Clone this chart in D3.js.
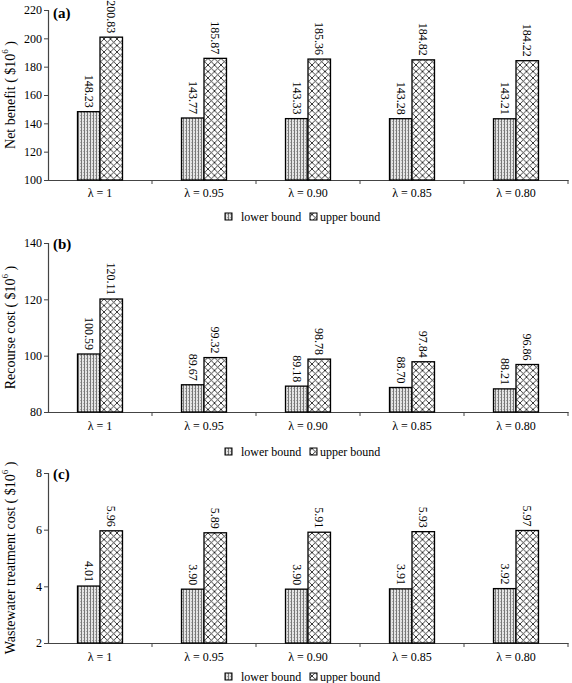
<!DOCTYPE html>
<html><head><meta charset="utf-8">
<script src="https://cdn.jsdelivr.net/npm/d3@7"></script>
<style>body{margin:0;background:#fff}svg{display:block;font-family:"Liberation Serif","DejaVu Serif",serif}</style>
</head><body>
<script>
const categories = ["λ = 1", "λ = 0.95", "λ = 0.90", "λ = 0.85", "λ = 0.80"];
const seriesNames = ["lower bound", "upper bound"];
const netLower = [148.23, 143.77, 143.33, 143.28, 143.21];
const netUpper = [200.83, 185.87, 185.36, 184.82, 184.22];
const recLower = [100.59, 89.67, 89.18, 88.70, 88.21];
const recUpper = [120.11, 99.32, 98.78, 97.84, 96.86];
const wwLower = [4.01, 3.90, 3.90, 3.91, 3.92];
const wwUpper = [5.96, 5.89, 5.91, 5.93, 5.97];
const netTicks = [100, 120, 140, 160, 180, 200, 220];
const recTicks = [80, 100, 120, 140];
const wwTicks = [2, 4, 6, 8];
const panelTags = ["(a)", "(b)", "(c)"];
const yTitles = ["Net benefit ( $10", "Recourse cost ( $10", "Wastewater treatment cost ( $10"];

const W = 572, H = 683;
const svg = d3.select("body").append("svg").attr("width", W).attr("height", H);
const defs = svg.append("defs");
const pl = defs.append("pattern").attr("id", "pLow").attr("patternUnits", "userSpaceOnUse").attr("width", 3).attr("height", 3);
pl.append("rect").attr("width", 3).attr("height", 3).attr("fill", "#e4e4e4");
pl.append("rect").attr("x", 0).attr("width", 1).attr("height", 3).attr("fill", "#777");
pl.append("rect").attr("x", 2).attr("y", 1).attr("width", 1).attr("height", 1).attr("fill", "#aaa");
const pu = defs.append("pattern").attr("id", "pUp").attr("patternUnits", "userSpaceOnUse").attr("width", 6.5).attr("height", 6.5);
pu.append("rect").attr("width", 6.5).attr("height", 6.5).attr("fill", "#fff");
pu.append("path").attr("d", "M0,0L6.5,6.5M0,6.5L6.5,0M-1,1L1,-1M5.5,7.5L7.5,5.5").attr("stroke", "#222").attr("stroke-width", 0.9);
const fills = ["url(#pLow)", "url(#pUp)"];

const panels = [
  {top: 10, bottom: 180, dom: [100, 220], ticks: netTicks, lower: netLower, upper: netUpper, tagY: 18, catY: 197, legY: 217},
  {top: 243, bottom: 412, dom: [80, 140], ticks: recTicks, lower: recLower, upper: recUpper, tagY: 249, catY: 430, legY: 452},
  {top: 473, bottom: 643, dom: [2, 8], ticks: wwTicks, lower: wwLower, upper: wwUpper, tagY: 479, catY: 661, legY: 677}
];
const x0 = d3.scaleBand().domain(categories).range([48, 568]);

panels.forEach((p, i) => {
  const g = svg.append("g");
  const y = d3.scaleLinear().domain(p.dom).range([p.bottom, p.top]);
  const ya = g.append("g").attr("transform", "translate(48,0)")
    .call(d3.axisLeft(y).tickValues(p.ticks).tickSize(4).tickPadding(2).tickFormat(d3.format("d")));
  ya.select(".domain").attr("stroke", "#444").attr("stroke-width", 1.2);
  ya.selectAll(".tick line").attr("stroke", "#444");
  ya.selectAll("text").attr("font-size", 12).attr("font-family", "Liberation Serif").attr("fill", "#000");
  const xa = g.append("g").attr("transform", `translate(0,${p.bottom})`)
    .call(d3.axisBottom(x0).tickSize(0).tickFormat(""));
  xa.select(".domain").attr("stroke", "#444").attr("stroke-width", 1.2);
  const bounds = categories.slice(1).map(c => x0(c)).concat([568]);
  g.selectAll(".xt").data(bounds).enter().append("line")
    .attr("x1", d => d).attr("x2", d => d).attr("y1", p.bottom).attr("y2", p.bottom + 4).attr("stroke", "#444");
  g.selectAll(".cat").data(categories).enter().append("text")
    .attr("x", d => x0(d) + x0.bandwidth() / 2).attr("y", p.catY)
    .attr("text-anchor", "middle").attr("font-size", 12).text(d => d);
  const x1 = d3.scaleBand().domain(seriesNames).range([0, 45]);
  const off = x0.bandwidth() / 2 - 22.5;
  const vals = [p.lower, p.upper];
  seriesNames.forEach((s, k) => {
    const data = categories.map((c, j) => ({c, v: vals[k][j]}));
    g.selectAll(".b" + k).data(data).enter().append("rect")
      .attr("x", d => x0(d.c) + off + x1(s)).attr("width", x1.bandwidth())
      .attr("y", d => y(d.v)).attr("height", d => p.bottom - y(d.v))
      .attr("fill", fills[k]).attr("stroke", "#000").attr("stroke-width", 1.3);
    g.selectAll(".l" + k).data(data).enter().append("text")
      .attr("transform", d => `translate(${x0(d.c) + off + x1(s) + x1.bandwidth() / 2},${y(d.v) - 4}) rotate(90)`)
      .attr("text-anchor", "end").attr("dominant-baseline", "central")
      .attr("font-size", 12).text(d => d.v.toFixed(2));
  });
  g.append("text").attr("x", 53).attr("y", p.tagY).attr("font-size", 15).attr("font-weight", "bold").text(panelTags[i]);
  const t = g.append("text").attr("transform", `translate(10,${(p.top + p.bottom) / 2}) rotate(-90)`)
    .attr("text-anchor", "middle").attr("dominant-baseline", "central").attr("font-size", 14);
  t.append("tspan").text(yTitles[i]);
  t.append("tspan").attr("font-size", 9).attr("dy", -5).text("6");
  t.append("tspan").attr("dy", 5).text(" )");
  const lg = g.append("g");
  const lx = [225, 310], tx = [241, 320];
  seriesNames.forEach((s, k) => {
    lg.append("rect").attr("x", lx[k]).attr("y", p.legY - 4).attr("width", 7).attr("height", 7)
      .attr("fill", fills[k]).attr("stroke", "#000").attr("stroke-width", 1);
    lg.append("text").attr("x", tx[k]).attr("y", p.legY + 4).attr("font-size", 12).text(s);
  });
});
</script>
</body></html>
